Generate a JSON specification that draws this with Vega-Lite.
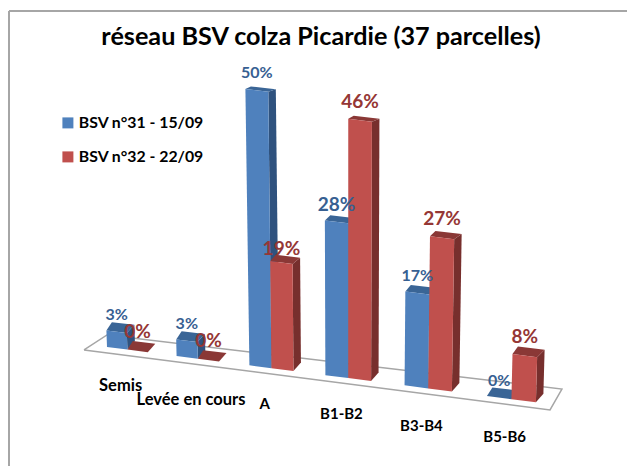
{
"$schema":"https://vega.github.io/schema/vega-lite/v6.json",
"width":618,"height":455,
"padding":{"left":9,"top":11,"right":0,"bottom":0},
"autosize":"none",
"background":"white",
"view":{"stroke":null,"fill":"white"},
"title":{"text":"réseau BSV colza Picardie (37 parcelles)","font":"Lato","fontWeight":"bold","fontSize":25.2,"color":"#000000","anchor":"middle","frame":"group","offset":-40,"dx":3},
"datasets":{
"bars":[
{"category":"Semis","series":"BSV n°31 - 15/09","value":3},
{"category":"Levée en cours","series":"BSV n°31 - 15/09","value":3},
{"category":"A","series":"BSV n°31 - 15/09","value":50},
{"category":"B1-B2","series":"BSV n°31 - 15/09","value":28},
{"category":"B3-B4","series":"BSV n°31 - 15/09","value":17},
{"category":"B5-B6","series":"BSV n°31 - 15/09","value":0},
{"category":"Semis","series":"BSV n°32 - 22/09","value":0},
{"category":"Levée en cours","series":"BSV n°32 - 22/09","value":0},
{"category":"A","series":"BSV n°32 - 22/09","value":19},
{"category":"B1-B2","series":"BSV n°32 - 22/09","value":46},
{"category":"B3-B4","series":"BSV n°32 - 22/09","value":27},
{"category":"B5-B6","series":"BSV n°32 - 22/09","value":8}
],
"plane":[
{"corner":0,"px":-0.338,"py":-0.545},
{"corner":1,"px":0,"py":2.18},
{"corner":2,"px":6.69,"py":-7.64},
{"corner":3,"px":6.515,"py":-11.45},
{"corner":4,"px":-0.338,"py":-0.545}
],
"frame":[{"left":-1.4412,"top":61.09}]
},
"encoding":{
  "x":{"type":"quantitative","scale":{"domain":[-1.4412,7.647],"nice":false,"zero":false},"axis":null},
  "y":{"type":"quantitative","scale":{"domain":[-21.64,61.09],"nice":false,"zero":false},"axis":null}
},
"layer":[
{"data":{"name":"frame"},"mark":{"type":"rule","stroke":"#a6a6a6","strokeWidth":2},"encoding":{"x":{"field":"left","type":"quantitative"}}},
{"data":{"name":"frame"},"mark":{"type":"rule","stroke":"#a6a6a6","strokeWidth":2},"encoding":{"y":{"field":"top","type":"quantitative"}}},
{"data":{"name":"plane"},
 "mark":{"type":"line","stroke":"#a6a6a6","strokeWidth":1.5},
 "encoding":{
  "x":{"field":"px","type":"quantitative"},
  "y":{"field":"py","type":"quantitative"},
  "order":{"field":"corner","type":"ordinal"}}},
{"data":{"name":"bars"},
 "transform":[
  {"calculate":"indexof(['Semis','Levée en cours','A','B1-B2','B3-B4','B5-B6'],datum.category)","as":"i"},
  {"calculate":"indexof(['BSV n°31 - 15/09','BSV n°32 - 22/09'],datum.series)","as":"s"},
  {"calculate":"0.3+0.012*datum.i","as":"w"},
  {"calculate":"datum.i+0.0235*datum.i*datum.i+datum.s*datum.w","as":"xl"},
  {"calculate":"datum.xl+datum.w","as":"xr"},
  {"calculate":"-1.595*datum.xl","as":"fl"},
  {"calculate":"-1.595*datum.xr","as":"fr"},
  {"calculate":"datum.xl+datum.value*0.000809*(datum.xl-3.544)","as":"tlx"},
  {"calculate":"datum.xr+datum.value*0.000809*(datum.xr-3.544)","as":"trx"},
  {"calculate":"datum.value*(datum.s==0?1.005:1.025)","as":"h"},
  {"calculate":"datum.fl+datum.h","as":"tly"},
  {"calculate":"datum.fr+datum.h","as":"try"},
  {"calculate":"1.55-0.022*datum.value","as":"back"},
  {"calculate":"datum.category+datum.series","as":"bar"}
 ],
 "layer":[
  {"transform":[
    {"calculate":"[datum.xr,datum.xr+0.11,datum.trx+0.11,datum.trx]","as":"px"},
    {"calculate":"[datum.fr,datum.fr+1.55,datum.try+datum.back,datum.try]","as":"py"},
    {"calculate":"[0,1,2,3]","as":"corner"},
    {"flatten":["px","py","corner"]}],
   "mark":{"type":"line","strokeWidth":0},
   "encoding":{
    "x":{"field":"px","type":"quantitative"},"y":{"field":"py","type":"quantitative"},
    "detail":{"field":"bar"},"order":{"field":"corner","type":"ordinal"},
    "fill":{"field":"series","type":"nominal","scale":{"domain":["BSV n°31 - 15/09","BSV n°32 - 22/09"],"range":["#2f527e","#772f2d"]},"legend":null}}},
  {"transform":[
    {"calculate":"[datum.tlx,datum.trx,datum.trx+0.11,datum.tlx+0.08]","as":"px"},
    {"calculate":"[datum.tly,datum.try,datum.try+datum.back,datum.tly+datum.back]","as":"py"},
    {"calculate":"[0,1,2,3]","as":"corner"},
    {"flatten":["px","py","corner"]}],
   "mark":{"type":"line","strokeWidth":0},
   "encoding":{
    "x":{"field":"px","type":"quantitative"},"y":{"field":"py","type":"quantitative"},
    "detail":{"field":"bar"},"order":{"field":"corner","type":"ordinal"},
    "fill":{"field":"series","type":"nominal","scale":{"domain":["BSV n°31 - 15/09","BSV n°32 - 22/09"],"range":["#3a6596","#8a3836"]},"legend":null}}},
  {"transform":[
    {"calculate":"[datum.xl,datum.xr,datum.trx,datum.tlx]","as":"px"},
    {"calculate":"[datum.fl,datum.fr,datum.try,datum.tly]","as":"py"},
    {"calculate":"[0,1,2,3]","as":"corner"},
    {"flatten":["px","py","corner"]}],
   "mark":{"type":"line","strokeWidth":0},
   "encoding":{
    "x":{"field":"px","type":"quantitative"},"y":{"field":"py","type":"quantitative"},
    "detail":{"field":"bar"},"order":{"field":"corner","type":"ordinal"},
    "fill":{"field":"series","type":"nominal","scale":{"domain":["BSV n°31 - 15/09","BSV n°32 - 22/09"],"range":["#4f81bd","#c0504d"]},
     "legend":{"title":null,"orient":"none","legendX":51,"legendY":104,"symbolType":"square","symbolSize":121,"symbolStrokeWidth":0,"labelFont":"Lato","labelFontWeight":"bold","labelFontSize":15.8,"labelColor":"#000000","rowPadding":17,"labelOffset":3}}}},
  {"transform":[
    {"calculate":"(datum.tlx+datum.trx)/2","as":"lx"},
    {"calculate":"(datum.tly+datum.try)/2+(datum.s==0?3.1:3.4)+(datum.i==2&&datum.s==1?-1:0)","as":"ly"},
    {"calculate":"datum.value+'%'","as":"lab"}],
   "mark":{"type":"text","font":"Lato","fontWeight":"bold","baseline":"middle","align":"center"},
   "encoding":{
    "x":{"field":"lx","type":"quantitative"},"y":{"field":"ly","type":"quantitative"},
    "text":{"field":"lab"},
    "color":{"field":"series","type":"nominal","scale":{"domain":["BSV n°31 - 15/09","BSV n°32 - 22/09"],"range":["#376092","#953735"]},"legend":null},
    "size":{"condition":{"test":"datum.s==1||datum.value==28","value":19},"value":16}}},
  {"transform":[
    {"filter":"datum.s==0"},
    {"calculate":"datum.xl+0.2+0.012*datum.i","as":"lx"},
    {"calculate":"datum.fl-7.1+(datum.i==1?-0.9:0)+(datum.i>=4?-0.3:0)","as":"ly"}],
   "mark":{"type":"text","font":"Lato","fontWeight":"bold","color":"#000000","baseline":"middle","align":"center"},
   "encoding":{
    "x":{"field":"lx","type":"quantitative"},"y":{"field":"ly","type":"quantitative"},
    "text":{"field":"category"},
    "size":{"condition":{"test":"datum.i<2","value":16.5},"value":15}}}
 ],
 "resolve":{"scale":{"fill":"independent","color":"independent"}}}
],
"resolve":{"scale":{"fill":"independent","color":"independent"}}
}
